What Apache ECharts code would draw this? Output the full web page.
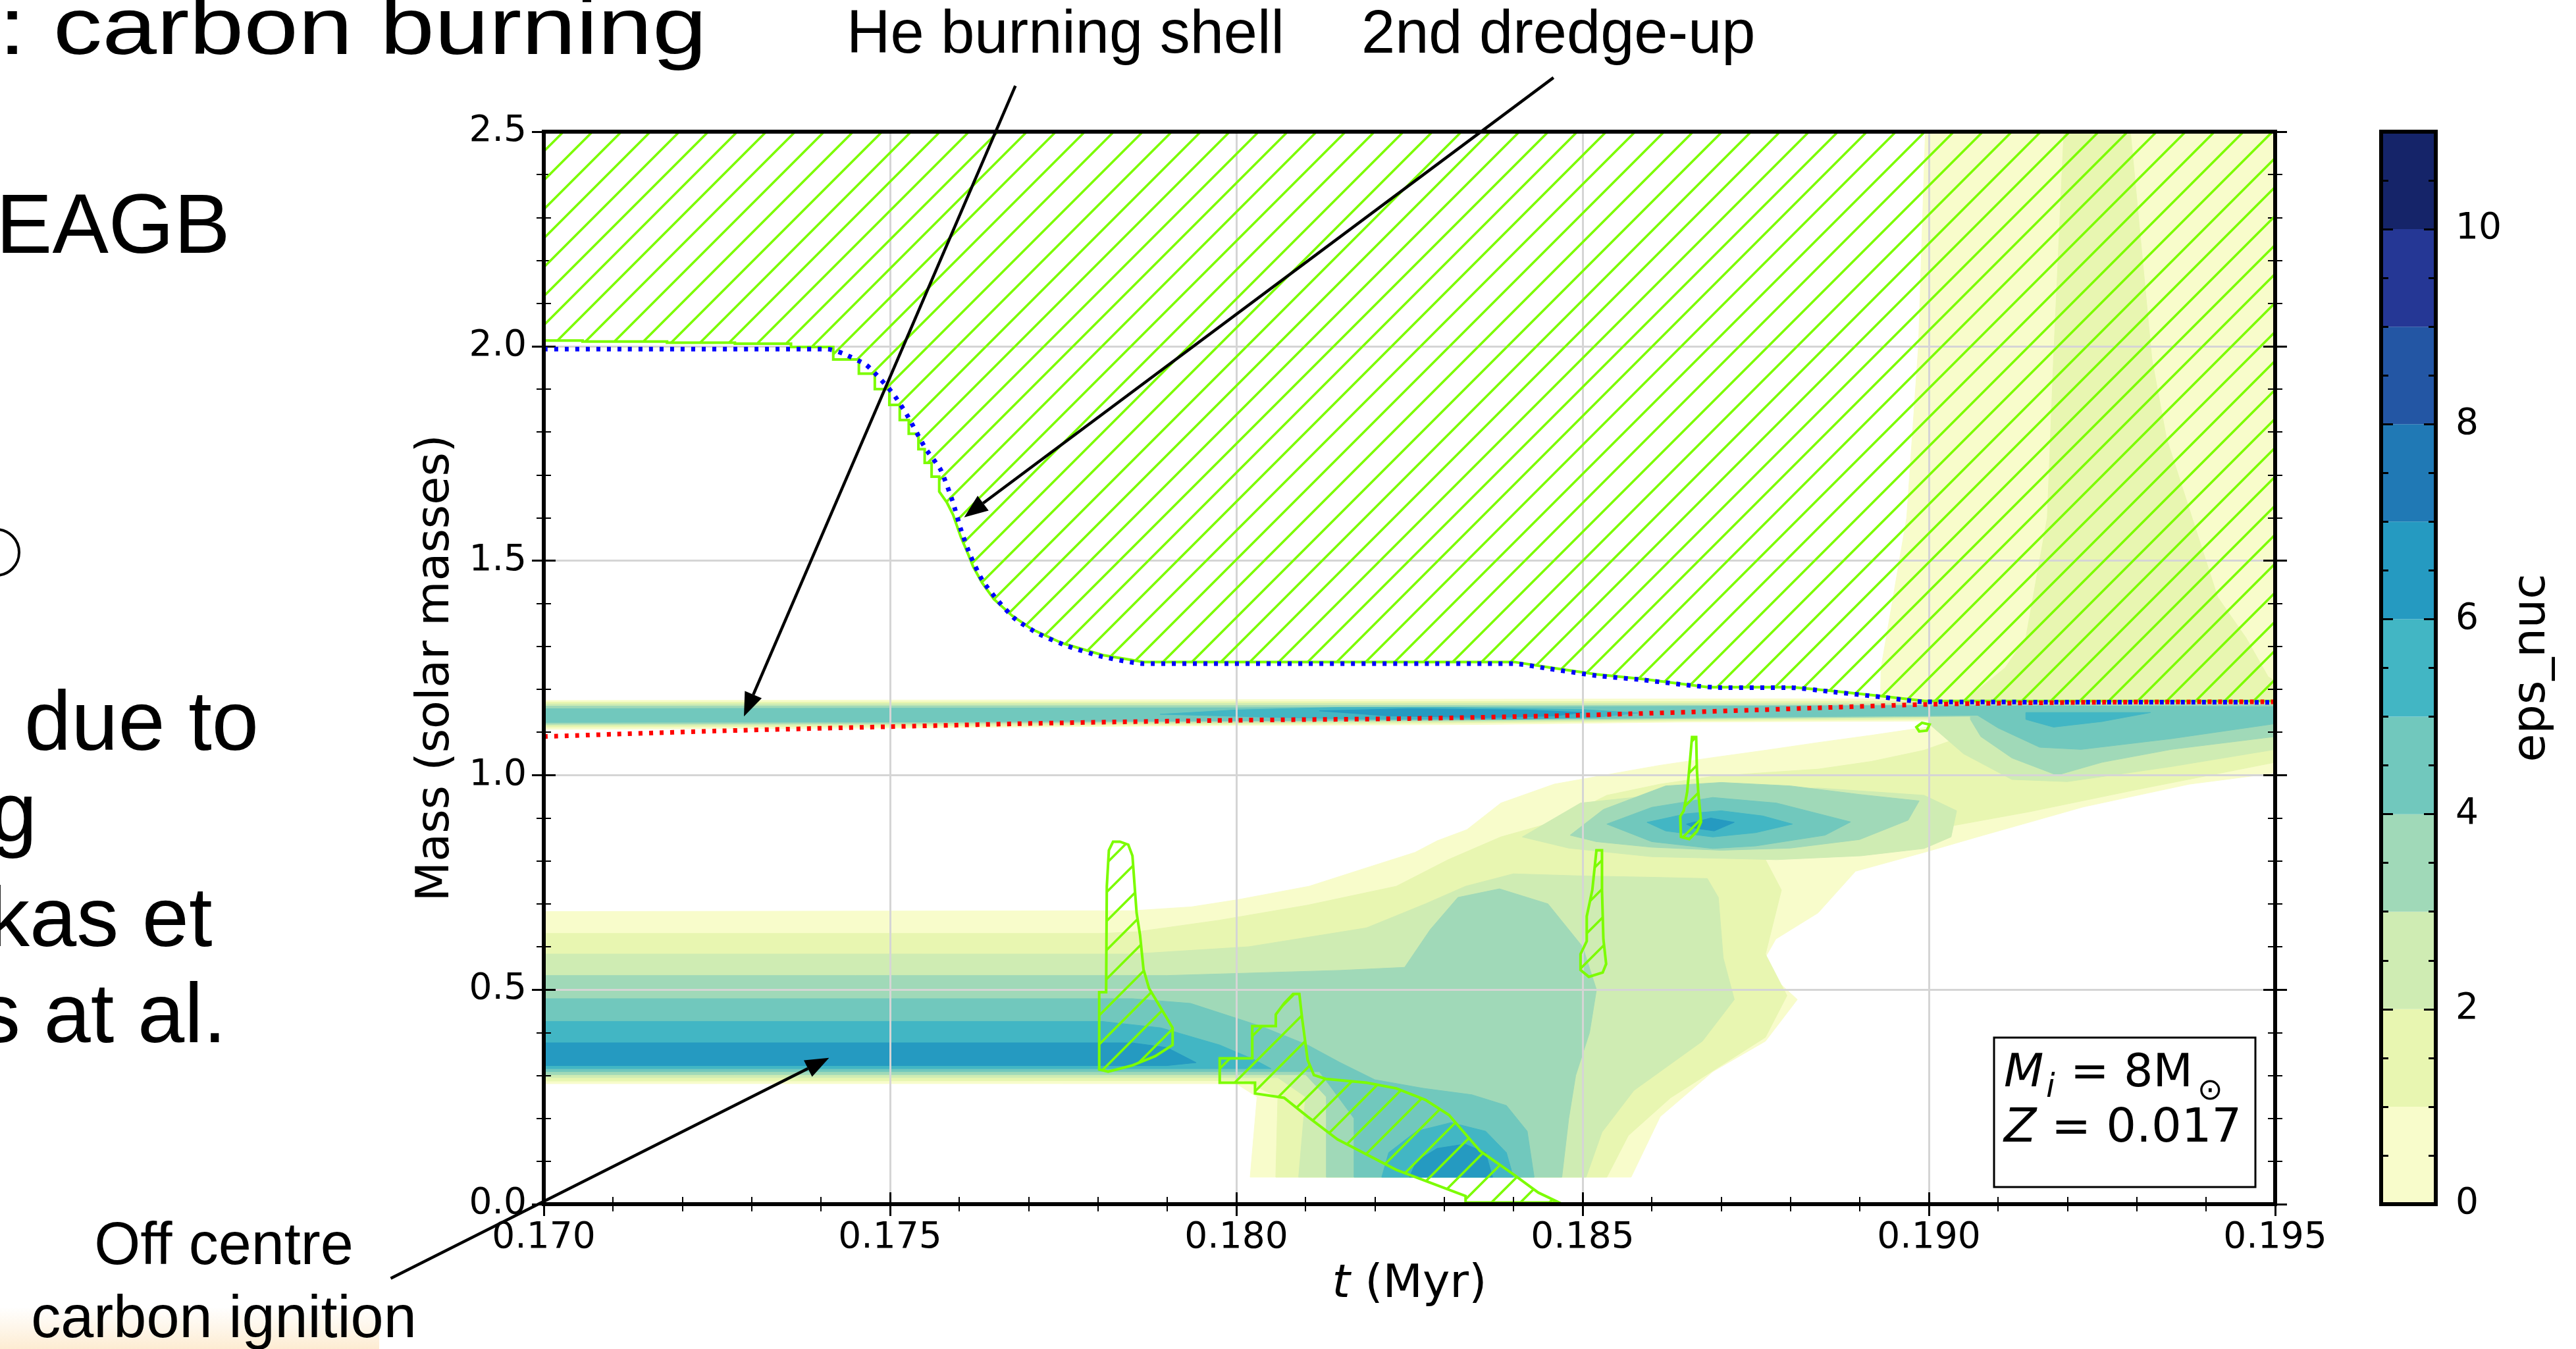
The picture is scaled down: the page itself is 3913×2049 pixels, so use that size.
<!DOCTYPE html>
<html>
<head>
<meta charset="utf-8">
<script src="https://cdn.jsdelivr.net/npm/echarts@6/dist/echarts.min.js"></script>
<style>
html,body{margin:0;padding:0;background:#fff;}
#chart{width:3913px;height:2049px;}
</style>
</head>
<body>
<div id="chart"></div>
<script>
// ---- axes ----
const tMin = 0.170, tMax = 0.195, tStep = 0.005;
const mMin = 0, mMax = 2.5, mStep = 0.5;
const epsMin = 0, epsMax = 11;
const epsMajorTicks = [0, 2, 4, 6, 8, 10];
const epsMinorTicks = [0.5, 1, 1.5, 2.5, 3, 3.5, 4.5, 5, 5.5, 6.5, 7, 7.5, 8.5, 9, 9.5, 10.5, 11];

// eps_nuc filled-contour colours, one per unit level 0..11
const levelColors = ['#f8fccb', '#e8f6b1', '#cfecb3', '#a0d9b8', '#71c8bd', '#42b6c4',
                     '#259ac1', '#2079b5', '#2356a4', '#253795', '#152469'];

// ---- eps_nuc regions, [t (Myr), mass (Msun)] outlines for each threshold ----
const level0Regions = [
  [[0.170,1.107],[0.175,1.110],[0.180,1.116],[0.1835,1.118],[0.1865,1.124],[0.1895,1.126],[0.195,1.130],[0.195,1.178],[0.188,1.178],[0.180,1.176],[0.170,1.174]],
  [[0.170,0.281],[0.1800,0.281],[0.1803,0.25],[0.1802,0.063],[0.1857,0.063],[0.18612,0.204],[0.18688,0.309],[0.18764,0.380],[0.1881,0.477],[0.18757,0.556],[0.18779,0.618],[0.1884,0.679],[0.18894,0.776],[0.18993,0.820],[0.1907,0.856],[0.19223,0.926],[0.19376,0.979],[0.195,1.005],[0.195,1.13],[0.1904,1.129],[0.18993,1.111],[0.18917,1.093],[0.1884,1.076],[0.18764,1.058],[0.18688,1.041],[0.18612,1.023],[0.18535,1.001],[0.18459,0.979],[0.18382,0.935],[0.18333,0.873],[0.1829,0.847],[0.18258,0.820],[0.1819,0.785],[0.18105,0.741],[0.18003,0.710],[0.17935,0.693],[0.1785,0.684],[0.170,0.682]],
  [[0.18995,2.5],[0.195,2.5],[0.195,1.17],[0.1893,1.17],[0.18931,1.25],[0.18968,1.60],[0.18985,2.0]]
];
const level1Regions = [
  [[0.170,1.112],[0.175,1.114],[0.180,1.119],[0.1835,1.122],[0.1865,1.127],[0.1895,1.130],[0.195,1.135],[0.195,1.173],[0.180,1.171],[0.170,1.170]],
  [[0.170,0.287],[0.1801,0.288],[0.1806,0.25],[0.18057,0.063],[0.18535,0.063],[0.18566,0.160],[0.18627,0.248],[0.18764,0.389],[0.18795,0.486],[0.18764,0.583],[0.18787,0.732],[0.18764,0.803],[0.1884,0.830],[0.18993,0.870],[0.19146,0.915],[0.19299,0.966],[0.195,1.03],[0.195,1.13],[0.1907,1.107],[0.1904,1.085],[0.18993,1.058],[0.18917,1.032],[0.1884,1.014],[0.18764,1.006],[0.18688,0.997],[0.18612,0.979],[0.18535,0.953],[0.18459,0.891],[0.18382,0.856],[0.18306,0.803],[0.18231,0.741],[0.18103,0.697],[0.17976,0.662],[0.17857,0.635],[0.17806,0.631],[0.170,0.631]],
  [[0.19195,2.5],[0.19291,2.5],[0.19322,1.97],[0.19343,1.786],[0.1938,1.60],[0.19417,1.415],[0.19458,1.32],[0.1949,1.229],[0.195,1.22],[0.195,1.172],[0.1905,1.172],[0.1911,1.25],[0.1914,1.32],[0.19171,1.60],[0.1918,1.97]]
];
const level2Regions = [
  [[0.170,1.116],[0.175,1.118],[0.180,1.122],[0.1835,1.125],[0.1865,1.130],[0.1895,1.134],[0.195,1.140],[0.195,1.168],[0.180,1.167],[0.170,1.166]],
  [[0.170,0.583],[0.1785,0.583],[0.18018,0.600],[0.18188,0.644],[0.18273,0.700],[0.18331,0.741],[0.1840,0.770],[0.1850,0.765],[0.1860,0.762],[0.1868,0.759],[0.18696,0.715],[0.18703,0.574],[0.18719,0.477],[0.18673,0.380],[0.18574,0.265],[0.18528,0.168],[0.18505,0.063],[0.1809,0.063],[0.1810,0.25],[0.1806,0.295],[0.170,0.295]],
  [[0.18413,0.856],[0.18497,0.935],[0.1865,0.961],[0.1884,0.970],[0.18993,0.953],[0.1904,0.917],[0.19032,0.856],[0.18993,0.829],[0.18902,0.812],[0.1878,0.803],[0.1860,0.810],[0.1848,0.830]],
  [[0.1900,1.165],[0.195,1.165],[0.195,1.06],[0.1935,1.02],[0.1920,0.985],[0.1912,0.99],[0.1905,1.05],[0.1900,1.12]]
];
const level3Regions = [
  [[0.170,1.119],[0.175,1.121],[0.180,1.125],[0.1835,1.128],[0.1865,1.132],[0.1895,1.136],[0.195,1.143],[0.195,1.164],[0.180,1.162],[0.170,1.161]],
  [[0.170,0.533],[0.1790,0.533],[0.1815,0.545],[0.18243,0.552],[0.1828,0.64],[0.1832,0.715],[0.1838,0.735],[0.1845,0.70],[0.1850,0.60],[0.1852,0.50],[0.1851,0.40],[0.1849,0.30],[0.1848,0.20],[0.1847,0.063],[0.1813,0.063],[0.1813,0.25],[0.1810,0.302],[0.170,0.302]],
  [[0.18482,0.860],[0.1853,0.92],[0.1862,0.975],[0.1870,0.983],[0.1880,0.975],[0.1890,0.955],[0.18986,0.940],[0.1897,0.895],[0.1890,0.850],[0.1880,0.830],[0.1870,0.825],[0.1860,0.832],[0.1852,0.845]],
  [[0.1906,1.16],[0.195,1.16],[0.195,1.09],[0.1935,1.06],[0.1925,1.03],[0.19185,1.00],[0.1912,1.04],[0.19075,1.09],[0.1906,1.13]]
];
const level4Regions = [
  [[0.170,1.123],[0.175,1.124],[0.180,1.127],[0.1835,1.130],[0.1865,1.134],[0.1895,1.138],[0.195,1.145],[0.195,1.160],[0.1895,1.162],[0.180,1.157],[0.170,1.155]],
  [[0.170,0.479],[0.1785,0.479],[0.17934,0.468],[0.18035,0.415],[0.18103,0.371],[0.1815,0.330],[0.1820,0.29],[0.1827,0.27],[0.1834,0.255],[0.1839,0.23],[0.1842,0.17],[0.1843,0.063],[0.1817,0.063],[0.1817,0.20],[0.1812,0.309],[0.170,0.309]],
  [[0.18535,0.886],[0.1860,0.925],[0.18688,0.948],[0.1878,0.935],[0.18887,0.891],[0.1885,0.860],[0.1875,0.835],[0.18688,0.829],[0.1860,0.845]],
  [[0.1907,1.155],[0.195,1.158],[0.195,1.12],[0.1935,1.085],[0.1922,1.06],[0.1916,1.065],[0.1910,1.11],[0.1907,1.14]]
];
const level5Regions = [
  [[0.1789,1.142],[0.1805,1.135],[0.1817,1.131],[0.1840,1.130],[0.1852,1.135],[0.1858,1.145],[0.1850,1.153],[0.1830,1.158],[0.1815,1.158],[0.1800,1.152]],
  [[0.170,0.426],[0.17806,0.426],[0.17891,0.411],[0.17976,0.371],[0.18027,0.336],[0.1805,0.316],[0.170,0.316]],
  [[0.1821,0.063],[0.1822,0.12],[0.1826,0.17],[0.1831,0.19],[0.1836,0.17],[0.1839,0.12],[0.1840,0.063]],
  [[0.18593,0.890],[0.1865,0.910],[0.1870,0.917],[0.1876,0.905],[0.18803,0.886],[0.1875,0.866],[0.18688,0.856],[0.1862,0.870]],
  [[0.1914,1.146],[0.1932,1.146],[0.1925,1.125],[0.1918,1.112],[0.1914,1.13]]
];
const level6Regions = [
  [[0.1812,1.150],[0.1822,1.138],[0.1836,1.134],[0.1846,1.138],[0.1850,1.146],[0.1842,1.152],[0.1825,1.155]],
  [[0.170,0.376],[0.1785,0.376],[0.1790,0.365],[0.17942,0.330],[0.1790,0.323],[0.170,0.323]],
  [[0.1825,0.063],[0.1826,0.10],[0.1829,0.13],[0.1833,0.14],[0.1836,0.12],[0.1837,0.063]],
  [[0.1865,0.886],[0.18685,0.900],[0.18719,0.890],[0.1869,0.870],[0.1866,0.877]]
];
const levelRegions = [level0Regions, level1Regions, level2Regions, level3Regions,
                      level4Regions, level5Regions, level6Regions];

// ---- convective zones (hatched) ----
// lower edge of the convective envelope, left to right
const envelopeEdge = [
  [0.1700,2.013],[0.17056,2.013],[0.17056,2.011],[0.17178,2.011],[0.17178,2.008],[0.17276,2.008],[0.17276,2.006],
  [0.17357,2.006],[0.17357,1.998],[0.17418,1.998],[0.17418,1.969],[0.17455,1.969],[0.17455,1.936],[0.17478,1.936],
  [0.17478,1.900],[0.17499,1.900],[0.17499,1.863],[0.17514,1.863],[0.17514,1.828],[0.17527,1.828],[0.17527,1.796],
  [0.17541,1.796],[0.17541,1.760],[0.17550,1.760],[0.17550,1.728],[0.17560,1.728],[0.17560,1.696],[0.17571,1.696],
  [0.17571,1.661],[0.17582,1.636],[0.17591,1.607],[0.17602,1.556],[0.17612,1.518],[0.17620,1.486],[0.17633,1.448],
  [0.17650,1.410],[0.17676,1.372],[0.17705,1.340],[0.17748,1.308],[0.17807,1.280],[0.17866,1.264],[0.18401,1.264],
  [0.18452,1.251],[0.18520,1.235],[0.18588,1.224],[0.18656,1.210],[0.18681,1.205],[0.18803,1.205],[0.18856,1.197],
  [0.18933,1.184],[0.18994,1.173],[0.195,1.173]
];
const carbonFlame = [[0.17976,0.340],[0.18023,0.340],[0.18023,0.415],[0.18057,0.415],[0.18057,0.442],[0.18069,0.468],[0.18082,0.490],[0.18091,0.490],[0.18095,0.433],[0.18103,0.336],[0.18112,0.301],[0.18129,0.292],[0.18188,0.283],[0.18231,0.270],[0.18273,0.243],[0.18307,0.208],[0.18352,0.124],[0.18398,0.072],[0.18436,0.027],[0.18466,0.004],[0.18331,0.004],[0.18331,0.019],[0.18231,0.080],[0.18146,0.151],[0.18103,0.204],[0.18069,0.248],[0.18027,0.258],[0.18027,0.283],[0.17976,0.283]];
const flashPocket1 = [[0.17802,0.494],[0.17802,0.314],[0.17815,0.309],[0.17849,0.323],[0.17883,0.345],[0.17908,0.371],[0.17908,0.411],[0.17887,0.468],[0.17874,0.503],[0.17866,0.547],[0.17861,0.627],[0.17856,0.679],[0.17850,0.812],[0.17844,0.838],[0.17832,0.845],[0.17822,0.845],[0.17816,0.825],[0.17813,0.741],[0.17812,0.494]];
const flashPocket2 = [[0.18520,0.825],[0.18528,0.825],[0.18528,0.732],[0.18530,0.618],[0.18534,0.560],[0.18529,0.540],[0.18509,0.530],[0.18497,0.546],[0.18497,0.583],[0.18506,0.613],[0.18506,0.671],[0.18514,0.732]];
const flashPocket3 = [[0.18658,1.089],[0.18664,1.089],[0.18665,1.014],[0.18667,0.961],[0.18671,0.891],[0.18665,0.869],[0.18654,0.851],[0.18642,0.856],[0.18641,0.904],[0.18646,0.917],[0.18651,0.961],[0.18654,1.014]];
const flashPocket4 = [[0.18982,1.112],[0.18990,1.122],[0.19001,1.118],[0.18997,1.104],[0.18986,1.102]];

// ---- boundaries ----
const heFreeCore = [[0.1700,1.993],[0.1741,1.993],[0.17432,1.983],[0.17465,1.957],[0.1748,1.934],[0.17505,1.888],[0.17524,1.841],[0.17551,1.762],[0.17573,1.712],[0.17590,1.640],[0.17603,1.569],[0.17616,1.512],[0.17633,1.455],[0.17654,1.410],[0.1768,1.365],[0.17714,1.330],[0.17756,1.301],[0.17807,1.276],[0.17866,1.260],[0.1840,1.260],[0.18452,1.248],[0.1852,1.232],[0.18587,1.222],[0.18656,1.209],[0.1870,1.204],[0.1880,1.204],[0.18856,1.195],[0.18932,1.182],[0.18993,1.171],[0.195,1.170]];
const coFreeCore = [[0.170,1.090],[0.1725,1.103],[0.175,1.113],[0.1775,1.122],[0.180,1.128],[0.1825,1.132],[0.185,1.140],[0.1875,1.152],[0.190,1.165],[0.1925,1.170],[0.195,1.171]];

// annotation arrows: [t from, M from, t to, M to]
const annotationArrows = [
  [0.17681, 2.607, 0.17289, 1.137],
  [0.18458, 2.626, 0.17607, 1.601],
  [0.16779, -0.173, 0.17412, 0.341]
];

const hatchRegions = [
  [[tMin, mMax], [tMax, mMax]].concat(envelopeEdge.slice().reverse()),
  carbonFlame, flashPocket1, flashPocket2, flashPocket3, flashPocket4
];

function makeHatch() {
  const s = 44;
  const c = document.createElement('canvas');
  c.width = s; c.height = s;
  const g = c.getContext('2d');
  g.strokeStyle = '#7cfc00';
  g.lineWidth = 3.6;
  g.beginPath();
  for (let k = -1; k <= 1; k++) {
    g.moveTo(k * s - 2, s + 2);
    g.lineTo(k * s + s + 2, -2);
  }
  g.stroke();
  return c;
}
const hatchPattern = { image: makeHatch(), repeat: 'repeat' };

const FONT = 'DejaVu Sans';
const GL = 826, GT = 200, GW = 2630, GH = 1629;
const CBL = 3617, CBW = 83;

const chart = echarts.init(document.getElementById('chart'), null, { renderer: 'canvas' });

function xAx(grid, pos, inside, extra) {
  return Object.assign({
    gridIndex: grid, type: 'value', position: pos, min: tMin, max: tMax, interval: tStep,
    axisLine: { show: false },
    axisTick: { show: true, inside: inside, length: 18, lineStyle: { color: '#000', width: 3 } },
    minorTick: { show: true, splitNumber: 5, length: 11, lineStyle: { color: '#000', width: 2 } },
    axisLabel: { show: false }, splitLine: { show: false }
  }, extra || {});
}
function yAx(grid, pos, inside, extra) {
  return Object.assign({
    gridIndex: grid, type: 'value', position: pos, min: mMin, max: mMax, interval: mStep,
    axisLine: { show: false },
    axisTick: { show: true, inside: inside, length: 18, lineStyle: { color: '#000', width: 3 } },
    minorTick: { show: true, splitNumber: 5, length: 11, lineStyle: { color: '#000', width: 2 } },
    axisLabel: { show: false }, splitLine: { show: false }
  }, extra || {});
}
function cbAx(grid, pos, ticks, len, extra) {
  return Object.assign({
    gridIndex: grid, type: 'value', position: pos, min: epsMin, max: epsMax,
    axisLine: { show: false },
    axisTick: { show: true, inside: false, length: len, customValues: ticks, lineStyle: { color: '#000', width: 3 } },
    axisLabel: { show: false }, splitLine: { show: false }
  }, extra || {});
}

const contourSeries = levelRegions.map((regions, k) => ({
  type: 'custom', xAxisIndex: 0, yAxisIndex: 0, z: 1, silent: true,
  data: regions.map((r, i) => [i]),
  renderItem: (params, api) => ({
    type: 'polygon',
    shape: { points: regions[params.dataIndex].map(p => api.coord(p)) },
    style: { fill: levelColors[k], stroke: levelColors[k], lineWidth: 1 }
  })
}));

const option = {
  animation: false,
  backgroundColor: '#fff',
  grid: [
    { left: GL, top: GT, width: GW, height: GH, show: true, borderColor: '#000', borderWidth: 6, z: 10 },
    { left: GL, top: GT, width: GW, height: GH },
    { left: CBL, top: GT, width: CBW, height: GH, show: true, borderColor: '#000', borderWidth: 6, z: 10 },
    { left: CBL, top: GT, width: CBW, height: GH }
  ],
  xAxis: [
    xAx(0, 'bottom', false, {
      z: 6,
      axisLabel: { show: true, margin: 24, fontSize: 55, fontFamily: FONT, color: '#000',
                   formatter: v => v.toFixed(3) },
      name: '{it|t} (Myr)', nameLocation: 'middle', nameGap: 88,
      nameTextStyle: { fontSize: 70, fontFamily: FONT, color: '#000',
                       rich: { it: { fontSize: 70, fontFamily: FONT, fontStyle: 'italic', color: '#000' } } }
    }),
    xAx(0, 'top', false, { z: 6 }),
    xAx(1, 'bottom', true, { z: 2, splitLine: { show: true, lineStyle: { color: '#d5d5d5', width: 3 } } }),
    xAx(1, 'top', true, { z: 2 }),
    { gridIndex: 2, type: 'value', min: 0, max: 1, show: false },
    { gridIndex: 3, type: 'value', min: 0, max: 1, show: false }
  ],
  yAxis: [
    yAx(0, 'left', false, {
      z: 6,
      axisLabel: { show: true, margin: 26, fontSize: 55, fontFamily: FONT, color: '#000',
                   formatter: v => v.toFixed(1) },
      name: 'Mass (solar masses)', nameLocation: 'middle', nameRotate: 90, nameGap: 128,
      nameTextStyle: { fontSize: 70, fontFamily: FONT, color: '#000' }
    }),
    yAx(0, 'right', false, { z: 6 }),
    yAx(1, 'left', true, { z: 2, splitLine: { show: true, lineStyle: { color: '#d5d5d5', width: 3 } } }),
    yAx(1, 'right', true, { z: 2 }),
    cbAx(2, 'right', epsMajorTicks, 18, {
      z: 6,
      axisLabel: { show: true, customValues: epsMajorTicks, margin: 30, fontSize: 55,
                   fontFamily: FONT, color: '#000' },
      name: 'eps_nuc', nameLocation: 'middle', nameRotate: 90, nameGap: 112,
      nameTextStyle: { fontSize: 70, fontFamily: FONT, color: '#000' }
    }),
    cbAx(2, 'left', epsMajorTicks, 18, { z: 6, offset: -CBW }),
    cbAx(3, 'right', epsMinorTicks, 11, { z: 6 }),
    cbAx(3, 'left', epsMinorTicks, 11, { z: 6, offset: -CBW })
  ],
  series: contourSeries.concat([
    {
      type: 'custom', xAxisIndex: 0, yAxisIndex: 0, z: 3, silent: true,
      data: hatchRegions.map((r, i) => [i]),
      renderItem: (params, api) => ({
        type: 'polygon',
        shape: { points: hatchRegions[params.dataIndex].map(p => api.coord(p)) },
        style: { fill: hatchPattern, stroke: '#7cfc00', lineWidth: 4 }
      })
    },
    {
      type: 'line', xAxisIndex: 0, yAxisIndex: 0, z: 4, data: coFreeCore, showSymbol: false,
      smooth: 0.3, lineStyle: { color: '#ff0000', width: 7, type: [6, 10] }, silent: true
    },
    {
      type: 'line', xAxisIndex: 0, yAxisIndex: 0, z: 4, data: heFreeCore, showSymbol: false,
      smooth: 0.2, lineStyle: { color: '#0000ff', width: 7, type: [6, 10] }, silent: true
    },
    {
      type: 'custom', xAxisIndex: 0, yAxisIndex: 0, z: 12, silent: true, clip: false,
      data: annotationArrows,
      renderItem: (params, api) => {
        const a = api.coord([api.value(0), api.value(1)]);
        const b = api.coord([api.value(2), api.value(3)]);
        const dx = b[0] - a[0], dy = b[1] - a[1], L = Math.hypot(dx, dy);
        const ux = dx / L, uy = dy / L, head = 36, hw = 14;
        const base = [b[0] - ux * head, b[1] - uy * head];
        return {
          type: 'group', children: [
            { type: 'line', shape: { x1: a[0], y1: a[1], x2: base[0], y2: base[1] },
              style: { stroke: '#000', lineWidth: 4.5 } },
            { type: 'polygon', shape: { points: [b, [base[0] + uy * hw, base[1] - ux * hw], [base[0] - uy * hw, base[1] + ux * hw]] },
              style: { fill: '#000' } }
          ]
        };
      }
    },
    {
      type: 'custom', xAxisIndex: 4, yAxisIndex: 4, z: 2, silent: true,
      data: levelColors.map((c, i) => [i]),
      renderItem: (params, api) => {
        const k = params.dataIndex;
        const p0 = api.coord([0, k + 1]), p1 = api.coord([1, k]);
        return { type: 'rect', shape: { x: p0[0], y: p0[1], width: p1[0] - p0[0], height: p1[1] - p0[1] },
                 style: { fill: levelColors[k] } };
      }
    }
  ]),
  graphic: [
    { type: 'rect', z: 0, shape: { x: 0, y: 1985, width: 576, height: 64 },
      style: { fill: new echarts.graphic.LinearGradient(0, 0, 0, 1, [
        { offset: 0, color: 'rgba(253,238,214,0)' }, { offset: 1, color: '#fdecd2' }]) } },
    { type: 'text', x: -2, y: 48, scaleX: 1.22, z: 20,
      style: { text: ': carbon burning', font: '122px "Liberation Sans"', fill: '#000', verticalAlign: 'middle' } },
    { type: 'text', x: -6, y: 349, z: 20,
      style: { text: 'EAGB', font: '128px "Liberation Sans"', fill: '#000', verticalAlign: 'middle' } },
    { type: 'circle', z: 20, shape: { cx: -6, cy: 839, r: 35 }, style: { fill: 'none', stroke: '#000', lineWidth: 4 } },
    { type: 'text', x: 37, y: 1104, z: 20,
      style: { text: 'due to', font: '128px "Liberation Sans"', fill: '#000', verticalAlign: 'middle' } },
    { type: 'text', x: -15, y: 1242, z: 20,
      style: { text: 'g', font: '128px "Liberation Sans"', fill: '#000', verticalAlign: 'middle' } },
    { type: 'text', x: -19, y: 1402, z: 20,
      style: { text: 'kas et', font: '128px "Liberation Sans"', fill: '#000', verticalAlign: 'middle' } },
    { type: 'text', x: -33, y: 1548, z: 20,
      style: { text: 's at al.', font: '128px "Liberation Sans"', fill: '#000', verticalAlign: 'middle' } },
    { type: 'text', x: 1286, y: 55, z: 20,
      style: { text: 'He burning shell', font: '92px "Liberation Sans"', fill: '#000', verticalAlign: 'middle' } },
    { type: 'text', x: 2068, y: 55, z: 20,
      style: { text: '2nd dredge-up', font: '92px "Liberation Sans"', fill: '#000', verticalAlign: 'middle' } },
    { type: 'text', x: 340, y: 1895, z: 20,
      style: { text: 'Off centre', font: '90px "Liberation Sans"', fill: '#000', align: 'center', verticalAlign: 'middle' } },
    { type: 'text', x: 340, y: 2006, z: 20,
      style: { text: 'carbon ignition', font: '90px "Liberation Sans"', fill: '#000', align: 'center', verticalAlign: 'middle' } },
    { type: 'rect', z: 20, shape: { x: 3029, y: 1576, width: 397, height: 227 },
      style: { fill: '#fff', stroke: '#000', lineWidth: 3 } },
    { type: 'text', x: 3044, y: 1632, z: 21,
      style: { text: 'M', font: 'italic 70px "DejaVu Sans"', fill: '#000', verticalAlign: 'middle' } },
    { type: 'text', x: 3108, y: 1653, z: 21,
      style: { text: 'i', font: 'italic 49px "DejaVu Sans"', fill: '#000', verticalAlign: 'middle' } },
    { type: 'text', x: 3145, y: 1632, z: 21,
      style: { text: '= 8M', font: '70px "DejaVu Sans"', fill: '#000', verticalAlign: 'middle' } },
    { type: 'text', x: 3338, y: 1658, z: 21,
      style: { text: '\u2299', font: '46px "DejaVu Sans"', fill: '#000', verticalAlign: 'middle' } },
    { type: 'text', x: 3044, y: 1715, z: 21,
      style: { text: 'Z', font: 'italic 72px "DejaVu Sans"', fill: '#000', verticalAlign: 'middle' } },
    { type: 'text', x: 3116, y: 1715, z: 21,
      style: { text: '= 0.017', font: '72px "DejaVu Sans"', fill: '#000', verticalAlign: 'middle' } }
  ]
};
chart.setOption(option);
</script>
</body>
</html>
